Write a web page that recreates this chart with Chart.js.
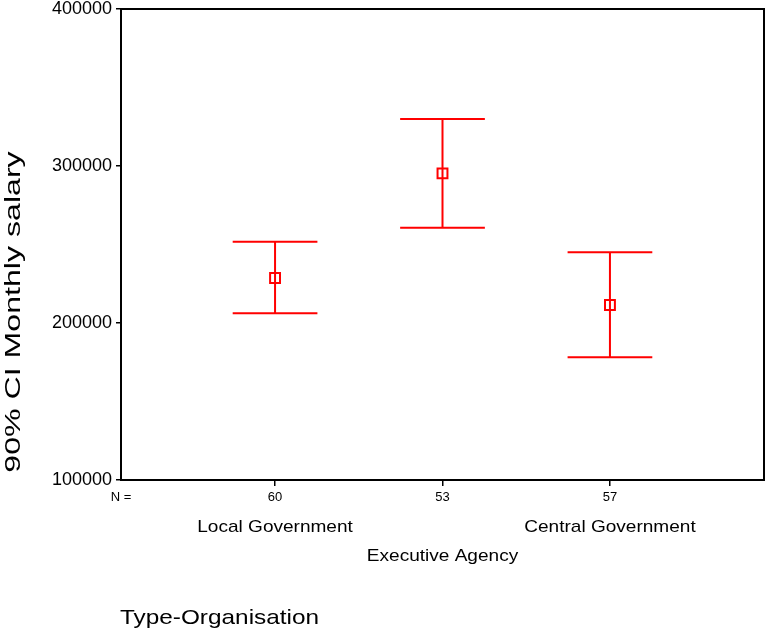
<!DOCTYPE html>
<html>
<head>
<meta charset="utf-8">
<title>90% CI Monthly salary by Type-Organisation</title>
<script src="https://cdn.jsdelivr.net/npm/chart.js@4/dist/chart.umd.min.js"></script>
<style>
  html, body { margin: 0; padding: 0; background: #fff; overflow: hidden; }
  #wrap { width: 765px; height: 631px; position: relative; }
  #chart { display: block; }
</style>
</head>
<body>
<div id="wrap"><canvas id="chart"></canvas></div>
<script>
// data
const categories = ['Local Government', 'Executive Agency', 'Central Government'];
const nCounts = [60, 53, 57];
const means = [228700, 295300, 211500];
const lower = [206200, 260700, 178200];
const upper = [251800, 330000, 245000];
const yTicks = [100000, 200000, 300000, 400000];

const FONT = "'Liberation Sans', Arial, sans-serif";
const RED = '#ff0000';
const X_MIN = 0.08;
const X_MAX = 3.92;
const CAP = 0.253;     // half width of the caps, in category units

// draw text stretched along its own direction (the picture's text is wide)
function wideText(ctx, text, x, y, size, sx, angle) {
    ctx.save();
    ctx.translate(x, y);
    if (angle) ctx.rotate(angle);
    ctx.scale(sx, 1);
    ctx.font = size + 'px ' + FONT;
    ctx.fillStyle = '#000';
    ctx.textAlign = 'center';
    ctx.fillText(text, 0, 0);
    ctx.restore();
}

const errorBars = {
    id: 'errorBars',
    beforeDatasetsDraw(chart) {
        const { ctx, scales: { x, y } } = chart;
        ctx.save();
        ctx.strokeStyle = RED;
        ctx.lineWidth = 2;
        categories.forEach((c, i) => {
            const px = x.getPixelForValue(i + 1);
            const left = x.getPixelForValue(i + 1 - CAP);
            const right = x.getPixelForValue(i + 1 + CAP);
            const top = y.getPixelForValue(upper[i]);
            const bottom = y.getPixelForValue(lower[i]);
            ctx.beginPath();
            ctx.moveTo(px, top);
            ctx.lineTo(px, bottom);
            ctx.moveTo(left, top);
            ctx.lineTo(right, top);
            ctx.moveTo(left, bottom);
            ctx.lineTo(right, bottom);
            ctx.stroke();
        });
        ctx.restore();
    },
    afterDraw(chart) {
        const { ctx, chartArea: a, scales: { x } } = chart;
        // frame round the plot
        ctx.save();
        ctx.strokeStyle = '#000';
        ctx.lineWidth = 2;
        ctx.strokeRect(a.left, a.top, a.right - a.left, a.bottom - a.top);
        ctx.restore();

        // category names, staggered on two rows
        ctx.save();
        ctx.textBaseline = 'alphabetic';
        categories.forEach((c, i) => {
            const row = i % 2 === 1 ? 561 : 532;
            wideText(ctx, c, x.getPixelForValue(i + 1), row, 17, 1.12, 0);
        });

        // axis titles
        ctx.font = '21px ' + FONT;
        const w = ctx.measureText('Type-Organisation').width * 1.16;
        wideText(ctx, 'Type-Organisation', a.left - 1 + w / 2, 624, 21, 1.16, 0);

        ctx.textBaseline = 'middle';
        wideText(ctx, '90% CI Monthly salary', 14, 312, 22, 1.46, -Math.PI / 2);
        ctx.restore();
    }
};

new Chart(document.getElementById('chart'), {
    type: 'scatter',
    data: {
        datasets: [{
            label: 'Mean',
            data: means.map((m, i) => ({ x: i + 1, y: m })),
            pointStyle: 'rect',
            pointRadius: 7,
            pointHoverRadius: 7,
            pointBorderWidth: 2,
            pointBorderColor: RED,
            pointBackgroundColor: 'rgba(0,0,0,0)',
            showLine: false
        }]
    },
    options: {
        responsive: true,
        maintainAspectRatio: false,
        animation: false,
        layout: { autoPadding: false, padding: { top: 9, right: 1, left: 0, bottom: 0 } },
        plugins: {
            legend: { display: false },
            tooltip: { enabled: false }
        },
        scales: {
            x: {
                type: 'linear',
                min: X_MIN,
                max: X_MAX,
                afterBuildTicks(s) {
                    s.ticks = [X_MIN, 1, 2, 3].map(v => ({ value: v }));
                },
                afterFit(s) {
                    s.height = 151;
                    s.paddingLeft = 0;
                    s.paddingRight = 0;
                },
                ticks: {
                    autoSkip: false,
                    maxRotation: 0,
                    padding: 4,
                    color: '#000',
                    font: { size: 13, family: FONT },
                    callback: v => v === X_MIN ? 'N =' : String(nCounts[v - 1])
                },
                grid: {
                    drawOnChartArea: false,
                    tickLength: 6,
                    lineWidth: 1.5,
                    color: c => (c.tick && c.tick.value === X_MIN) ? 'rgba(0,0,0,0)' : '#000'
                },
                border: { color: '#000', width: 2 }
            },
            y: {
                min: yTicks[0],
                max: yTicks[yTicks.length - 1],
                afterBuildTicks(s) {
                    s.ticks = yTicks.map(v => ({ value: v }));
                },
                afterFit(s) {
                    s.width = 121;
                    s.paddingTop = 0;
                    s.paddingBottom = 0;
                },
                ticks: {
                    padding: 4,
                    color: '#000',
                    font: { size: 18, family: FONT, lineHeight: 1 },
                    callback: v => String(v)
                },
                grid: {
                    drawOnChartArea: false,
                    tickLength: 5,
                    lineWidth: 1.5,
                    color: '#000'
                },
                border: { color: '#000', width: 2 }
            }
        }
    },
    plugins: [errorBars]
});
</script>
</body>
</html>
